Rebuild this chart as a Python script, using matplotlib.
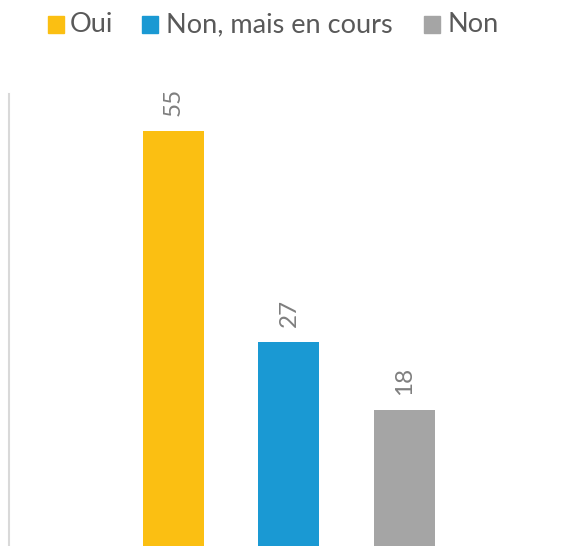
import matplotlib.pyplot as plt
from matplotlib.patches import Rectangle

categories = ["Oui", "Non, mais en cours", "Non"]
values = [55, 27, 18]
colors = ["#FBBF12", "#1A99D3", "#A5A5A5"]

plt.rcParams['font.family'] = ['Lato', 'DejaVu Sans']

W, H = 565, 546
fig = plt.figure(figsize=(W / 100, H / 100), dpi=100)
ax = fig.add_axes([9 / W, 0, 1 - 9 / W, (546 - 94) / H])

x = range(len(categories))
bars = ax.bar(x, values, width=0.528, color=colors)
ax.set_xlim(-1.424, 3.39)
ax.set_ylim(0, 59.9)

for b, v in zip(bars, values):
    ax.annotate(str(v), (b.get_x() + b.get_width() / 2, v), xytext=(0, 11),
                textcoords='offset points', ha='center', va='bottom',
                rotation=90, fontsize=17.5, color='#7F7F7F')

for s in ['top', 'right', 'bottom']:
    ax.spines[s].set_visible(False)
ax.spines['left'].set_color('#D9D9D9')
ax.spines['left'].set_linewidth(1.5)
ax.set_xticks([])
ax.set_yticks([])

# legend drawn by hand
sq_x = [48, 142, 424]
txt_x = [70, 166, 447]
for c, lab, sx, tx in zip(colors, categories, sq_x, txt_x):
    fig.patches.append(Rectangle((sx / W, 1 - 33 / H), 16 / W, 17 / H,
                                 transform=fig.transFigure, color=c))
    fig.text(tx / W, 1 - 25 / H, lab, ha='left', va='center', fontsize=19.5,
             color='#595959')

fig.savefig('out.png', dpi=100)
